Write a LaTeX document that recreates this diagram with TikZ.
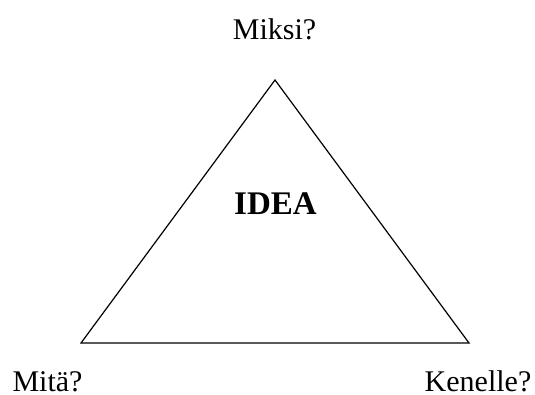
\documentclass[tikz,border=0pt]{standalone}
\usepackage{fontspec}
\setmainfont{Liberation Serif}
\begin{document}
\begin{tikzpicture}[x=1pt,y=1pt,
  lbl/.style={inner sep=0pt, anchor=base, font=\fontsize{30}{36}\selectfont},
  ttl/.style={inner sep=0pt, anchor=base, font=\fontsize{33}{40}\selectfont\bfseries},
  edge/.style={line width=1.2pt, line join=miter}]
\useasboundingbox (0,0) rectangle (535,394);
\coordinate (top) at (275,314);
\coordinate (bl) at (81,51);
\coordinate (br) at (469,51);
\draw[edge] (top) -- (bl) -- (br) -- cycle;
\node[lbl] (miksi) at (274.5,354) {Miksi?};
\node[ttl] (idea) at (275.5,179) {IDEA};
\node[lbl] (mita) at (47.5,3) {Mitä?};
\node[lbl] (kenelle) at (478,3) {Kenelle?};
\end{tikzpicture}
\end{document}
